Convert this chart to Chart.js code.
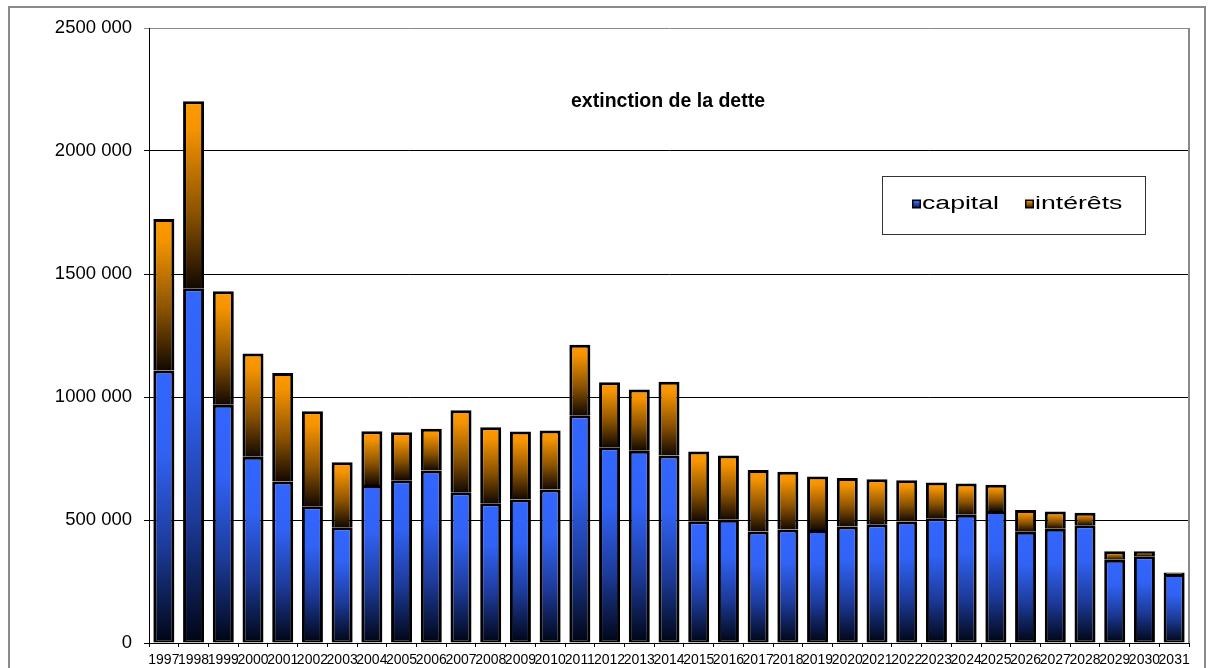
<!DOCTYPE html>
<html>
<head>
<meta charset="utf-8">
<script src="https://cdn.jsdelivr.net/npm/chart.js@4.4.1/dist/chart.umd.min.js"></script>
<style>
  body { margin: 0; background: #fff; }
  canvas { display: block; }
</style>
</head>
<body>
<canvas id="dette" width="1214" height="668"></canvas>
<script>
// annual debt service: capital repaid + interest paid
const years = ['1997', '1998', '1999', '2000', '2001', '2002', '2003', '2004', '2005', '2006',
  '2007', '2008', '2009', '2010', '2011', '2012', '2013', '2014', '2015', '2016',
  '2017', '2018', '2019', '2020', '2021', '2022', '2023', '2024', '2025', '2026',
  '2027', '2028', '2029', '2030', '2031'];

const capital = [1108000, 1442000, 969000, 757000, 656000, 556000, 471000, 642000, 662000, 701000,
  613000, 568000, 583000, 624000, 926000, 796000, 782000, 762000, 495000, 501000,
  453000, 461000, 459000, 474000, 483000, 494000, 507000, 521000, 537000, 452000,
  464000, 479000, 338000, 353000, 280000];

const interets = [616000, 760000, 461000, 420000, 442000, 386000, 264000, 219000, 195000, 170000,
  333000, 309000, 277000, 240000, 286000, 264000, 248000, 300000, 283000, 261000,
  250000, 235000, 218000, 197000, 183000, 168000, 145000, 127000, 106000, 89000,
  71000, 50000, 35000, 20000, 7000];

const yMax = 2500000;
const yStep = 500000;

const FONT = "'Liberation Sans', Arial, sans-serif";
const blueStops = [[0, '#3366ff'], [0.3, '#3062f4'], [0.65, '#1c3a98'], [1, '#000514']];
const orangeStops = [[0, '#ff9900'], [0.15, '#f59300'], [0.6, '#8a5200'], [1, '#120800']];

// each segment gets its own vertical gradient, bright at its top, dark at its base
function segmentGradient(ctx, stops) {
  const chart = ctx.chart;
  const y = chart.scales.y;
  if (!y || ctx.type !== 'data') return stops[0][1];
  const i = ctx.dataIndex;
  const base = ctx.datasetIndex === 0 ? 0 : capital[i];
  const top = base + (ctx.datasetIndex === 0 ? capital[i] : interets[i]);
  const y0 = y.getPixelForValue(top);
  const y1 = y.getPixelForValue(base);
  if (!isFinite(y0) || !isFinite(y1) || y0 === y1) return stops[0][1];
  const g = chart.ctx.createLinearGradient(0, y0, 0, y1);
  stops.forEach(s => g.addColorStop(s[0], s[1]));
  return g;
}

function swatch(c, x, y, size, stops) {
  const g = c.createLinearGradient(0, y, 0, y + size);
  stops.forEach(s => g.addColorStop(s[0], s[1]));
  c.fillStyle = '#000';
  c.fillRect(x, y, size, size);
  c.fillStyle = g;
  c.fillRect(x + 1.5, y + 1.5, size - 3, size - 3);
}

const decor = {
  id: 'decor',
  beforeDraw(chart) {
    const c = chart.ctx;
    c.save();
    c.fillStyle = '#fff';
    c.fillRect(0, 0, chart.width, chart.height);
    c.strokeStyle = '#8a8a8a';
    c.lineWidth = 2;
    c.strokeRect(9, 7, 1196, 700);
    c.restore();
  },
  beforeDatasetsDraw(chart) {
    const a = chart.chartArea;
    const c = chart.ctx;
    c.save();
    c.strokeStyle = '#8a8a8a';
    c.lineWidth = 2;
    c.beginPath();
    c.moveTo(a.right, a.top);
    c.lineTo(a.right, a.bottom);
    c.stroke();
    c.restore();
  },
  afterDraw(chart) {
    const c = chart.ctx;
    c.save();
    // title
    c.fillStyle = '#000';
    c.font = 'bold 19.5px ' + FONT;
    c.textAlign = 'center';
    c.textBaseline = 'middle';
    c.fillText('extinction de la dette', 668, 102);

    // legend box, wide lettering
    c.fillStyle = '#fff';
    c.fillRect(882, 176, 263, 58);
    c.strokeStyle = '#333';
    c.lineWidth = 1;
    c.strokeRect(882.5, 176.5, 263, 58);

    const ds = chart.data.datasets;
    const items = [[912, 922, blueStops], [1025, 1035, orangeStops]];
    c.font = '18px ' + FONT;
    c.textAlign = 'left';
    c.textBaseline = 'alphabetic';
    items.forEach((it, k) => {
      swatch(c, it[0], 199.5, 9, it[2]);
      c.save();
      c.translate(it[1], 208.5);
      c.scale(1.48, 1);
      c.fillStyle = '#000';
      c.fillText(ds[k].label, 0, 0);
      c.restore();
    });
    c.restore();
  }
};

new Chart(document.getElementById('dette'), {
  type: 'bar',
  data: {
    labels: years,
    datasets: [
      {
        label: 'capital',
        data: capital,
        backgroundColor: ctx => segmentGradient(ctx, blueStops),
        borderColor: '#000',
        borderWidth: { top: 3, left: 3, right: 3, bottom: 2 },
        borderSkipped: false,
        inflateAmount: 0,
        barPercentage: 0.707,
        categoryPercentage: 1
      },
      {
        label: 'intérêts',
        data: interets,
        backgroundColor: ctx => segmentGradient(ctx, orangeStops),
        borderColor: '#000',
        borderWidth: { top: 3, left: 3, right: 3, bottom: 0 },
        borderSkipped: false,
        inflateAmount: 0,
        barPercentage: 0.707,
        categoryPercentage: 1
      }
    ]
  },
  options: {
    responsive: false,
    devicePixelRatio: 1,
    animation: false,
    layout: { padding: { left: 0, top: 28, right: 25, bottom: 0 } },
    plugins: {
      legend: { display: false },
      tooltip: { enabled: false }
    },
    scales: {
      x: {
        stacked: true,
        afterFit: s => { s.height = 25; },
        border: { color: '#000', width: 1 },
        grid: { offset: true, drawOnChartArea: false, drawTicks: true, tickLength: 4, color: '#000' },
        ticks: {
          autoSkip: false,
          maxRotation: 0,
          minRotation: 0,
          padding: 5,
          color: '#000',
          font: { family: "'Liberation Sans Narrow', 'Arial Narrow', " + FONT, size: 14 }
        }
      },
      y: {
        stacked: true,
        min: 0,
        max: yMax,
        afterFit: s => { s.width = 149; },
        border: { color: '#000', width: 1 },
        grid: {
          color: ctx => (ctx.tick && ctx.tick.value === yMax ? '#8a8a8a' : '#000'),
          lineWidth: 1,
          tickLength: 5
        },
        ticks: {
          stepSize: yStep,
          padding: 12,
          color: '#000',
          font: { family: FONT, size: 18.5 },
          callback: v => (v === 0 ? '0' : (v / 1000) + ' 000')
        }
      }
    }
  },
  plugins: [decor]
});
</script>
</body>
</html>
